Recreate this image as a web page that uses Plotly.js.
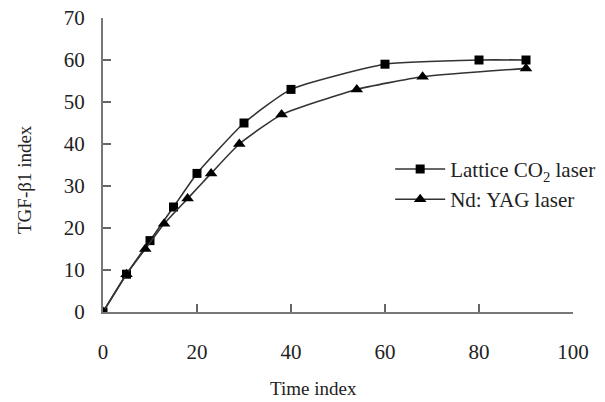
<!DOCTYPE html>
<html>
<head>
<meta charset="utf-8">
<script src="https://cdn.plot.ly/plotly-3.0.1.min.js"></script>
<style>html,body{margin:0;padding:0;background:#fff;}#chart{width:605px;height:402px;}</style>
</head>
<body>
<div id="chart"></div>
<script>
const co2Time = [0, 5, 10, 15, 20, 30, 40, 60, 80, 90];
const co2Values = [0, 9, 17, 25, 33, 45, 53, 59, 60, 60];
const yagTime = [0, 5, 9, 13, 18, 23, 29, 38, 54, 68, 90];
const yagValues = [0, 9, 15, 21, 27, 33, 40, 47, 53, 56, 58];
const seriesNames = ["Lattice CO<sub>2</sub> laser", "Nd: YAG laser"];
const xTicks = [0, 20, 40, 60, 80, 100];
const yTicks = [0, 10, 20, 30, 40, 50, 60, 70];
const xTitle = "Time index";
const yTitle = "TGF-β1 index";

const serif = "Liberation Serif, Times New Roman, serif";
const traces = [
  {
    x: co2Time, y: co2Values, name: seriesNames[0], type: "scatter", mode: "lines+markers",
    line: {color: "#333", width: 1.6, shape: "spline", smoothing: 0.5},
    marker: {symbol: "square", size: 9, color: "#000"}
  },
  {
    x: yagTime, y: yagValues, name: seriesNames[1], type: "scatter", mode: "lines+markers",
    line: {color: "#333", width: 1.6, shape: "spline", smoothing: 0.5},
    marker: {symbol: "triangle-up", size: 11, color: "#000"}
  }
];
const layout = {
  width: 605, height: 402,
  margin: {l: 103, r: 32, t: 18, b: 90, autoexpand: false},
  paper_bgcolor: "#fff", plot_bgcolor: "#fff",
  font: {family: serif, color: "#222"},
  showlegend: true,
  legend: {x: 0.611, y: 0.555, xanchor: "left", yanchor: "top", font: {family: serif, size: 21, color: "#222"},
           bgcolor: "rgba(0,0,0,0)", tracegroupgap: 0, itemwidth: 50},
  xaxis: {
    range: [0, 100], tickvals: xTicks, ticktext: xTicks.map(String), automargin: false,
    ticks: "inside", ticklen: 8, tickwidth: 1.5, tickcolor: "#666",
    showline: true, linecolor: "#777", linewidth: 2, showgrid: false, zeroline: false,
    tickfont: {family: serif, size: 21, color: "#222"}, ticklabelstandoff: 20
  },
  yaxis: {
    range: [0, 70], tickvals: yTicks, ticktext: yTicks.map(String), automargin: false,
    ticks: "inside", ticklen: 8, tickwidth: 1.5, tickcolor: "#666",
    showline: true, linecolor: "#777", linewidth: 2, showgrid: false, zeroline: false,
    tickfont: {family: serif, size: 21, color: "#222"}, ticklabelstandoff: 12
  },
  annotations: [
    {text: xTitle, xref: "paper", yref: "paper", x: (313 - 103) / 470, y: -(388 - 312) / 294,
     xanchor: "center", yanchor: "middle", showarrow: false, font: {family: serif, size: 19, color: "#222"}},
    {text: yTitle, xref: "paper", yref: "paper", x: -(103 - 25) / 470, y: (312 - 180) / 294,
     xanchor: "center", yanchor: "middle", textangle: -90, showarrow: false, font: {family: serif, size: 19, color: "#222"}}
  ]
};
Plotly.newPlot("chart", traces, layout, {displayModeBar: false, staticPlot: true});
</script>
</body>
</html>
